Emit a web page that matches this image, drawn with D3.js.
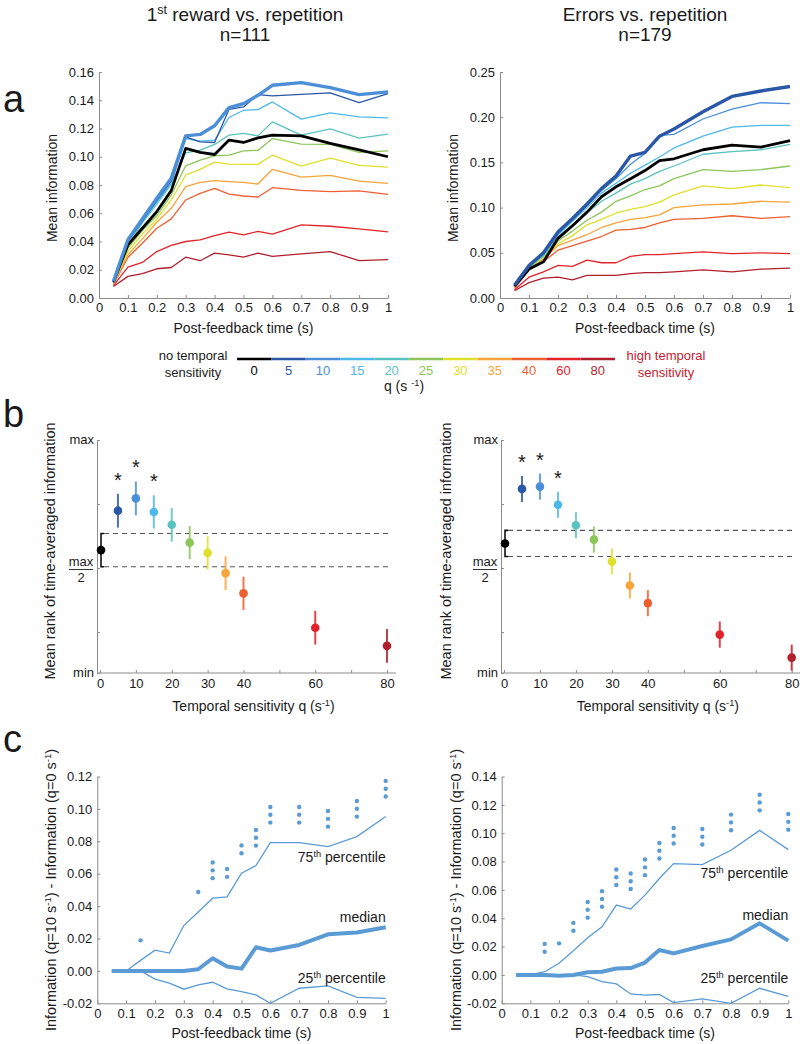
<!DOCTYPE html>
<html><head><meta charset="utf-8">
<script src="https://cdn.jsdelivr.net/npm/d3@7"></script>
<style>
body{margin:0;background:#fff}
svg{display:block}
text{font-family:"Liberation Sans",Arial,Helvetica,sans-serif;fill:#1a1a1a}
</style>
</head><body>
<svg id="fig" width="800" height="1044"></svg>
<script>
// ---------------- DATA ----------------
const times = [0.05,0.1,0.15,0.2,0.25,0.3,0.35,0.4,0.45,0.5,0.55,0.6,0.7,0.8,0.9,1.0];
const qValues = [0,5,10,15,20,25,30,35,40,60,80];
const qLabels = ["0","5","10","15","20","25","30","35","40","60","80"];
const qColors = ["#000000","#2b57a7","#4a8fd8","#4cb9e9","#5ac3bf","#8cc65a","#dfe02c","#f7a43a","#ee5f30","#e2232a","#b11f2d"];

// Panel a: mean information per q (rows follow qValues)
const rewardInfo = [
  [0.0113,0.0376,0.0494,0.0612,0.0760,0.1059,0.1031,0.1016,0.1118,0.1101,0.1134,0.1153,0.1148,0.1094,0.1049,0.1000],
  [0.0110,0.0400,0.0546,0.0690,0.0828,0.1141,0.1106,0.1101,0.1336,0.1353,0.1440,0.1431,0.1442,0.1452,0.1384,0.1447],
  [0.0118,0.0412,0.0560,0.0706,0.0847,0.1148,0.1158,0.1219,0.1348,0.1376,0.1435,0.1506,0.1525,0.1489,0.1440,0.1459],
  [0.0106,0.0395,0.0540,0.0680,0.0810,0.1129,0.1110,0.1118,0.1278,0.1329,0.1334,0.1388,0.1266,0.1311,0.1282,0.1275],
  [0.0104,0.0370,0.0532,0.0664,0.0805,0.1028,0.1047,0.1087,0.1153,0.1165,0.1148,0.1247,0.1153,0.1198,0.1132,0.1160],
  [0.0102,0.0353,0.0478,0.0584,0.0729,0.0936,0.0976,0.1007,0.1012,0.1042,0.1045,0.1129,0.1089,0.1087,0.1031,0.1042],
  [0.0100,0.0330,0.0452,0.0558,0.0694,0.0871,0.0911,0.0962,0.0948,0.0946,0.0946,0.1012,0.0934,0.0991,0.0939,0.0927],
  [0.0098,0.0306,0.0419,0.0536,0.0635,0.0788,0.0819,0.0831,0.0824,0.0819,0.0807,0.0911,0.0856,0.0868,0.0828,0.0812],
  [0.0095,0.0287,0.0388,0.0494,0.0560,0.0694,0.0741,0.0776,0.0736,0.0722,0.0715,0.0781,0.0762,0.0753,0.0758,0.0734],
  [0.0087,0.0219,0.0252,0.0329,0.0372,0.0400,0.0412,0.0442,0.0466,0.0447,0.0471,0.0452,0.0518,0.0508,0.0489,0.0468],
  [0.0082,0.0153,0.0172,0.0207,0.0216,0.0289,0.0264,0.0318,0.0306,0.0289,0.0318,0.0294,0.0313,0.0329,0.0264,0.0271]
];
const errorsInfo = [
  [0.013,0.032,0.040,0.066,0.080,0.095,0.112,0.123,0.132,0.141,0.152,0.154,0.164,0.169,0.167,0.174],
  [0.014,0.036,0.050,0.073,0.088,0.104,0.121,0.135,0.157,0.161,0.179,0.187,0.206,0.223,0.229,0.234],
  [0.014,0.036,0.049,0.072,0.087,0.102,0.119,0.132,0.148,0.160,0.180,0.181,0.198,0.209,0.216,0.215],
  [0.013,0.035,0.048,0.070,0.085,0.100,0.116,0.127,0.138,0.147,0.156,0.166,0.179,0.189,0.191,0.191],
  [0.013,0.034,0.047,0.068,0.081,0.094,0.107,0.116,0.126,0.132,0.140,0.146,0.159,0.162,0.164,0.170],
  [0.012,0.034,0.046,0.063,0.074,0.086,0.095,0.107,0.113,0.120,0.124,0.132,0.142,0.140,0.142,0.146],
  [0.012,0.033,0.045,0.060,0.069,0.081,0.087,0.094,0.098,0.101,0.106,0.114,0.124,0.121,0.125,0.122],
  [0.011,0.032,0.043,0.058,0.064,0.070,0.078,0.083,0.087,0.089,0.092,0.100,0.103,0.104,0.107,0.106],
  [0.011,0.031,0.040,0.053,0.058,0.063,0.068,0.075,0.076,0.078,0.083,0.087,0.088,0.091,0.088,0.090],
  [0.009,0.023,0.029,0.036,0.035,0.042,0.039,0.039,0.046,0.048,0.048,0.049,0.051,0.049,0.050,0.049],
  [0.008,0.017,0.022,0.023,0.020,0.025,0.025,0.025,0.027,0.028,0.028,0.029,0.031,0.029,0.032,0.033]
];
const rewardThickQ = 10;
const errorsThickQ = 5;

// Panel b: mean rank (fraction of max) and error
const rankMin = 0.09;
const rankTicks = [0.25,0.5,0.75,1];
const rankReward    = [0.570,0.724,0.772,0.719,0.669,0.599,0.559,0.480,0.401,0.267,0.196];
const rankRewardErr = [0.065,0.066,0.066,0.065,0.066,0.065,0.065,0.066,0.065,0.066,0.066];
const rankErrors    = [0.596,0.809,0.818,0.747,0.667,0.611,0.525,0.432,0.363,0.240,0.150];
const rankErrorsErr = [0.051,0.051,0.051,0.051,0.051,0.051,0.051,0.051,0.051,0.051,0.051];
const starQ = [5,10,15];
const rankXTicks = [0,10,20,30,40,50,60,70,80];
const rankXLabels = [0,10,20,30,40,60,80];

// Panel c: difference q=10 minus q=0
const rewardP75    = [0,0,0.0065,0.0128,0.011,0.028,0.0364,0.0449,0.0457,0.0603,0.065,0.0792,0.0792,0.0767,0.0829,0.0953];
const rewardMedian = [0,0,0,0,0,0,0.001,0.0078,0.0027,0.0014,0.0146,0.0126,0.016,0.0226,0.0237,0.027];
const rewardP25    = [0,0,0,-0.0051,-0.0076,-0.0113,-0.0086,-0.007,-0.0111,-0.0128,-0.0148,-0.02,-0.0107,-0.0093,-0.0163,-0.0169];
const rewardSig    = [0,0,1,0,0,0,1,3,2,2,3,3,3,3,3,3];
const errorsP75    = [0,0,0.0023,0.0082,0.0171,0.0263,0.034,0.0493,0.0465,0.0563,0.068,0.0786,0.0779,0.088,0.102,0.0884];
const errorsMedian = [0,0,0,-0.0005,0,0.0019,0.0023,0.0045,0.0049,0.0087,0.0176,0.0152,0.0204,0.0251,0.0364,0.0242];
const errorsP25    = [0,0,0,0,0,-0.0012,-0.0047,-0.0063,-0.0134,-0.0143,-0.0138,-0.0195,-0.0169,-0.02,-0.0094,-0.0152];
const errorsSig    = [0,0,2,1,2,3,3,3,3,3,3,3,3,3,3,3];

const timeTicks = [0,0.1,0.2,0.3,0.4,0.5,0.6,0.7,0.8,0.9,1];

// ---------------- DRAWING ----------------
const svg = d3.select("#fig");
const AX = "#8c8c8c";
const diffColor = "#5b9bd5";

function rich(t, parts, size){
  let sup = false;
  parts.forEach(p=>{
    const ts = t.append("tspan").text(p.t);
    if(p.sup && !sup){ ts.attr("dy", -size*0.38).attr("font-size", size*0.66); }
    else if(p.sup){ ts.attr("font-size", size*0.66); }
    else if(!p.sup && sup){ ts.attr("dy", size*0.38); }
    sup = !!p.sup;
  });
  return t;
}
function styleAxis(g){
  g.attr("font-family", null).attr("font-size", null);
  g.select(".domain").attr("stroke", AX).attr("stroke-width",1);
  g.selectAll(".tick line").attr("stroke", AX);
  g.selectAll(".tick text").attr("font-size", 13).attr("fill","#1a1a1a");
}
const fmtTime = d => d===0 ? "0" : d===1 ? "1" : d.toFixed(1);

// Panel letters
[["a",112],["b",427],["c",752]].forEach(([l,y])=>{
  svg.append("text").attr("x",3).attr("y",y).attr("font-size",38).text(l);
});

// Titles
const t1 = svg.append("text").attr("x",245).attr("y",21).attr("text-anchor","middle").attr("font-size",19);
rich(t1,[{t:"1"},{t:"st",sup:true},{t:" reward vs. repetition"}],19);
svg.append("text").attr("x",245).attr("y",41).attr("text-anchor","middle").attr("font-size",19).text("n=111");
svg.append("text").attr("x",645).attr("y",21).attr("text-anchor","middle").attr("font-size",19).text("Errors vs. repetition");
svg.append("text").attr("x",645).attr("y",41).attr("text-anchor","middle").attr("font-size",19).text("n=179");

// ---- Panel a ----
function panelA(x0, x1, yMax, yTickVals, data, thickQ, ylabX){
  const x = d3.scaleLinear([0,1],[x0,x1]);
  const y = d3.scaleLinear([0,yMax],[298,72]);
  const g = svg.append("g");
  g.append("g").attr("transform","translate(0,298)")
    .call(d3.axisBottom(x).tickValues(timeTicks).tickFormat(fmtTime).tickSizeInner(-3).tickSizeOuter(0).tickPadding(5))
    .call(styleAxis);
  g.append("g").attr("transform",`translate(${x0},0)`)
    .call(d3.axisLeft(y).tickValues(yTickVals).tickFormat(d=>d.toFixed(2)).tickSizeInner(-3).tickSizeOuter(0).tickPadding(5))
    .call(styleAxis);
  const line = d3.line().x((d,i)=>x(times[i])).y(d=>y(d));
  const thickIdx = qValues.indexOf(thickQ);
  const order = d3.range(qValues.length).reverse().filter(i=>i!==0 && i!==thickIdx).concat([0,thickIdx]);
  order.forEach(i=>{
    g.append("path").datum(data[i]).attr("d",line).attr("fill","none")
      .attr("stroke",qColors[i])
      .attr("stroke-width", i===thickIdx?3.4:(i===0?2.8:1.3))
      .attr("stroke-linejoin","round");
  });
  svg.append("text").attr("transform",`translate(${ylabX},188) rotate(-90)`).attr("text-anchor","middle").attr("font-size",14).text("Mean information");
  svg.append("text").attr("x",(x0+x1)/2).attr("y",333).attr("text-anchor","middle").attr("font-size",14).text("Post-feedback time (s)");
}
panelA(99,388,0.16,d3.range(0,0.1601,0.02),rewardInfo,rewardThickQ,57);
panelA(500,790,0.25,d3.range(0,0.2501,0.05),errorsInfo,errorsThickQ,458);

// ---- Colorbar legend ----
const cb = d3.scaleBand(qLabels,[237,615]);
qLabels.forEach((l,i)=>{
  svg.append("line").attr("x1",cb(l)).attr("x2",cb(l)+cb.bandwidth()).attr("y1",359).attr("y2",359)
    .attr("stroke",qColors[i]).attr("stroke-width",2.5);
  svg.append("text").attr("x",cb(l)+cb.bandwidth()/2).attr("y",375).attr("text-anchor","middle")
    .attr("font-size",13).style("fill",qColors[i]).text(l);
});
svg.append("text").attr("x",193).attr("y",360).attr("text-anchor","middle").attr("font-size",13).text("no temporal");
svg.append("text").attr("x",193).attr("y",377).attr("text-anchor","middle").attr("font-size",13).text("sensitivity");
svg.append("text").attr("x",666).attr("y",360).attr("text-anchor","middle").attr("font-size",13).style("fill","#c8202e").text("high temporal");
svg.append("text").attr("x",666).attr("y",377).attr("text-anchor","middle").attr("font-size",13).style("fill","#c8202e").text("sensitivity");
rich(svg.append("text").attr("x",404).attr("y",391).attr("text-anchor","middle").attr("font-size",14),
  [{t:"q (s "},{t:"-1",sup:true},{t:")"}],14);

// ---- Panel b ----
function panelB(axX, x0, x1, vals, errs, ylabX){
  const x = d3.scaleLinear([0,80],[x0,x1]);
  const y = d3.scaleLinear([rankMin,1],[673,440]);
  const g = svg.append("g");
  const xa = g.append("g").attr("transform","translate(0,673)")
    .call(d3.axisBottom(x).tickValues(rankXTicks).tickFormat(d=>rankXLabels.includes(d)?d:"").tickSizeInner(-3).tickSizeOuter(0).tickPadding(6))
    .call(styleAxis);
  xa.select(".domain").remove();
  g.append("line").attr("x1",axX).attr("x2",x1+9).attr("y1",673).attr("y2",673).attr("stroke",AX);
  g.append("g").attr("transform",`translate(${axX},0)`)
    .call(d3.axisLeft(y).tickValues([rankMin].concat(rankTicks)).tickFormat("").tickSizeInner(-3).tickSizeOuter(0))
    .call(styleAxis);
  g.append("text").attr("x",axX-3).attr("y",y(1)+4).attr("text-anchor","end").attr("font-size",13).text("max");
  g.append("text").attr("x",axX-3).attr("y",y(rankMin)+4).attr("text-anchor","end").attr("font-size",13).text("min");
  const mx = axX-16;
  g.append("text").attr("x",mx).attr("y",y(0.5)-2).attr("text-anchor","middle").attr("font-size",13).text("max");
  g.append("line").attr("x1",mx-12).attr("x2",mx+12).attr("y1",y(0.5)+1.5).attr("y2",y(0.5)+1.5).attr("stroke","#1a1a1a").attr("stroke-width",0.9);
  g.append("text").attr("x",mx).attr("y",y(0.5)+14).attr("text-anchor","middle").attr("font-size",13).text("2");
  const top0 = y(vals[0]+errs[0]), bot0 = y(vals[0]-errs[0]);
  [top0,bot0].forEach(yy=>{
    g.append("line").attr("x1",x(0)+4).attr("x2",x(80)+1).attr("y1",yy).attr("y2",yy)
      .attr("stroke","#555").attr("stroke-width",1.1).attr("stroke-dasharray","5,4");
  });
  g.append("path").attr("d",`M${x(0)+4},${top0}H${x(0)+1}V${bot0}H${x(0)+4}`).attr("fill","none").attr("stroke","#111").attr("stroke-width",1.6);
  qValues.forEach((q,i)=>{
    if(i>0){
      g.append("line").attr("x1",x(q)).attr("x2",x(q)).attr("y1",y(vals[i]+errs[i])).attr("y2",y(vals[i]-errs[i]))
        .attr("stroke",qColors[i]).attr("stroke-width",2).attr("stroke-opacity",0.85);
    }
    g.append("circle").attr("cx",x(q)+(i===0?1:0)).attr("cy",y(vals[i])).attr("r",4.3).attr("fill",qColors[i]);
  });
  starQ.forEach(q=>{
    const i = qValues.indexOf(q);
    g.append("text").attr("x",x(q)).attr("y",y(vals[i]+errs[i])-7).attr("text-anchor","middle").attr("font-size",20).text("*");
  });
  svg.append("text").attr("transform",`translate(${ylabX},551) rotate(-90)`).attr("text-anchor","middle").attr("font-size",14.5).text("Mean rank of time-averaged information");
  rich(svg.append("text").attr("x",(x0+x1)/2+10).attr("y",711).attr("text-anchor","middle").attr("font-size",14),
    [{t:"Temporal sensitivity q (s"},{t:"-1",sup:true},{t:")"}],14);
}
panelB(97,100,387,rankReward,rankRewardErr,55);
panelB(501,504,791.7,rankErrors,rankErrorsErr,451);

// ---- Panel c ----
function panelC(x0, x1, yMax, yTickVals, p75, med, p25, sig, ylabX, labY){
  const x = d3.scaleLinear([0,1],[x0,x1]);
  const y = d3.scaleLinear([-0.02,yMax],[1003.3,776.5]);
  const g = svg.append("g");
  g.append("g").attr("transform","translate(0,1003.3)")
    .call(d3.axisBottom(x).tickValues(timeTicks).tickFormat(fmtTime).tickSizeInner(-3).tickSizeOuter(0).tickPadding(5))
    .call(styleAxis);
  g.append("g").attr("transform",`translate(${x0},0)`)
    .call(d3.axisLeft(y).tickValues(yTickVals).tickFormat(d=>d.toFixed(2)).tickSizeInner(-3).tickSizeOuter(0).tickPadding(5))
    .call(styleAxis);
  const line = d3.line().x((d,i)=>x(times[i])).y(d=>y(d));
  g.append("path").datum(p75).attr("d",line).attr("fill","none").attr("stroke",diffColor).attr("stroke-width",1.3);
  g.append("path").datum(p25).attr("d",line).attr("fill","none").attr("stroke",diffColor).attr("stroke-width",1.3);
  g.append("path").datum(med).attr("d",line).attr("fill","none").attr("stroke",diffColor).attr("stroke-width",4).attr("stroke-linejoin","round");
  sig.forEach((n,i)=>{
    for(let k=0;k<n;k++){
      g.append("circle").attr("cx",x(times[i])).attr("cy",y(p75[i])-20-k*7.8).attr("r",2.2).attr("fill",diffColor);
    }
  });
  rich(g.append("text").attr("x",x1).attr("y",labY[0]).attr("text-anchor","end").attr("font-size",14),
    [{t:"75"},{t:"th",sup:true},{t:" percentile"}],14);
  g.append("text").attr("x",x1).attr("y",labY[1]).attr("text-anchor","end").attr("font-size",14).text("median");
  rich(g.append("text").attr("x",x1).attr("y",labY[2]).attr("text-anchor","end").attr("font-size",14),
    [{t:"25"},{t:"th",sup:true},{t:" percentile"}],14);
  rich(svg.append("text").attr("transform",`translate(${ylabX},890) rotate(-90)`).attr("text-anchor","middle").attr("font-size",14.5),
    [{t:"Information (q=10 s"},{t:"-1",sup:true},{t:") - Information (q=0 s"},{t:"-1",sup:true},{t:")"}],14.5);
  svg.append("text").attr("x",(x0+x1)/2).attr("y",1038).attr("text-anchor","middle").attr("font-size",14).text("Post-feedback time (s)");
}
panelC(97.3,385.7,0.12,d3.range(-0.02,0.1201,0.02).map(v=>Math.round(v*100)/100),rewardP75,rewardMedian,rewardP25,rewardSig,56,[862,922,983]);
panelC(501.7,788.3,0.14,d3.range(-0.02,0.1401,0.02).map(v=>Math.round(v*100)/100),errorsP75,errorsMedian,errorsP25,errorsSig,461,[878,920,983]);
</script>
</body></html>
